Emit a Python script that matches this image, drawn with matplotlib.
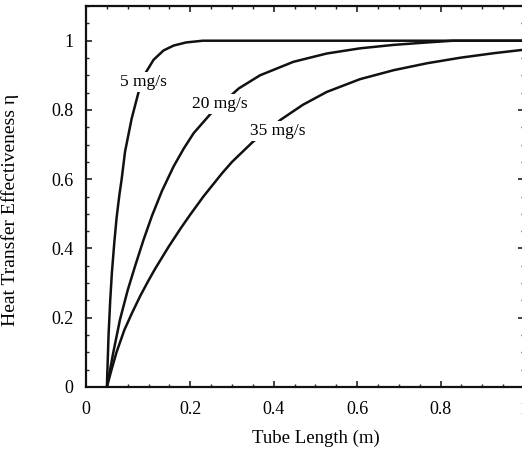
import matplotlib
matplotlib.use("Agg")
import matplotlib.pyplot as plt
from matplotlib.ticker import MultipleLocator, FixedLocator, FixedFormatter

plt.rcParams['font.family'] = ['Liberation Serif', 'DejaVu Serif']

# tube length (m) and effectiveness
x_5 = [0.0, 0.004, 0.008, 0.012, 0.018, 0.0234, 0.03, 0.0354, 0.0436, 0.0594,
       0.0756, 0.0917, 0.112, 0.136, 0.16, 0.19, 0.23, 1.0]
eta_5 = [0.0, 0.15, 0.25, 0.33, 0.42, 0.49, 0.555, 0.6, 0.68, 0.775,
         0.85, 0.905, 0.945, 0.972, 0.986, 0.995, 1.0, 1.0]

x_20 = [0.0, 0.0154, 0.0315, 0.05, 0.0676, 0.0876, 0.108, 0.132, 0.16, 0.184,
        0.208, 0.248, 0.316, 0.367, 0.447, 0.527, 0.607, 0.688, 0.768, 0.83, 1.0]
eta_20 = [0.0, 0.1, 0.195, 0.28, 0.349, 0.424, 0.494, 0.566, 0.637, 0.688,
          0.733, 0.788, 0.862, 0.9, 0.939, 0.963, 0.978, 0.988, 0.995, 1.0, 1.0]

x_35 = [0.0, 0.01, 0.023, 0.042, 0.06, 0.08, 0.1, 0.116, 0.148, 0.178, 0.2,
        0.232, 0.276, 0.3, 0.35, 0.417, 0.47, 0.527, 0.607, 0.688, 0.768,
        0.848, 0.928, 1.0]
eta_35 = [0.0, 0.045, 0.1, 0.165, 0.213, 0.263, 0.308, 0.342, 0.405, 0.46, 0.498,
          0.551, 0.617, 0.65, 0.708, 0.772, 0.815, 0.852, 0.889, 0.915, 0.935,
          0.951, 0.964, 0.974]

labels = ['5 mg/s', '20 mg/s', '35 mg/s']
label_xy = [(0.088, 0.88), (0.27, 0.818), (0.41, 0.74)]

x_ticks = [-0.05, 0.2, 0.4, 0.6, 0.8, 1.0]
x_ticklabels = ['0', '0.2', '0.4', '0.6', '0.8', '1']
y_ticks = [0, 0.2, 0.4, 0.6, 0.8, 1.0]
y_ticklabels = ['0', '0.2', '0.4', '0.6', '0.8', '1']

fig = plt.figure(figsize=(5.22, 4.54), dpi=100)
ax = fig.add_axes([0.1648, 0.1476, 0.839, 0.839])

for xs, ys in [(x_5, eta_5), (x_20, eta_20), (x_35, eta_35)]:
    ax.plot(xs, ys, color='#111111', lw=1.8, zorder=2)

for text, (tx, ty) in zip(labels, label_xy):
    ax.text(tx, ty, text, ha='center', va='center', fontsize=12.5, zorder=3,
            bbox=dict(facecolor='white', edgecolor='none', pad=1.5))

ax.set_xlim(-0.05, 1.0)
ax.set_ylim(0, 1.1)

ax.xaxis.set_major_locator(FixedLocator(x_ticks))
ax.xaxis.set_major_formatter(FixedFormatter(x_ticklabels))
ax.xaxis.set_minor_locator(MultipleLocator(0.05))
ax.yaxis.set_major_locator(FixedLocator(y_ticks))
ax.yaxis.set_major_formatter(FixedFormatter(y_ticklabels))
ax.yaxis.set_minor_locator(MultipleLocator(0.05))

ax.tick_params(which='both', direction='in', top=True, right=True,
               labelsize=13, color='#222222')
ax.tick_params(which='major', length=4.5, width=1.2)
ax.tick_params(which='minor', length=2.5, width=1.0)
ax.tick_params(axis='x', which='major', pad=10)
ax.tick_params(axis='y', which='major', pad=9)

for sp in ax.spines.values():
    sp.set_linewidth(1.6)
    sp.set_color('#111111')

ax.set_xlabel('Tube Length (m)', fontsize=13.5)
ax.set_ylabel('Heat Transfer Effectiveness η', fontsize=14)
ax.xaxis.set_label_coords(0.525, -0.112)
ax.yaxis.set_label_coords(-0.152, 0.465)

fig.savefig('out.png', dpi=100)
